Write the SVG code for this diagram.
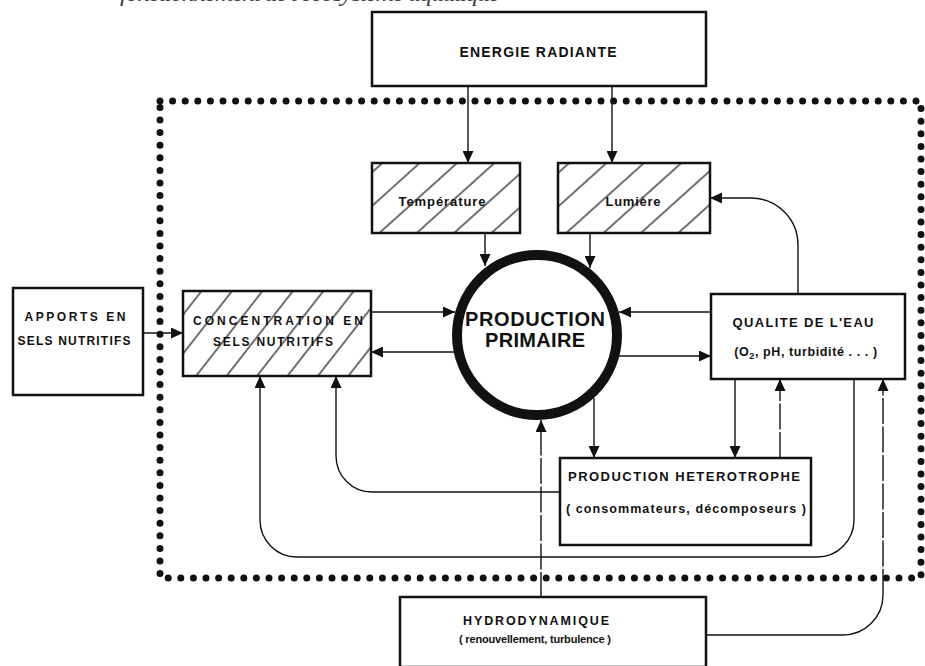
<svg xmlns="http://www.w3.org/2000/svg" width="925" height="666" viewBox="0 0 925 666">
<style>
.box{fill:#fff;stroke:#111;stroke-width:2.5}
.hbox{fill:url(#hatch);stroke:#111;stroke-width:2.5}
.hbox2{fill:url(#hatch2);stroke:#111;stroke-width:2.5}
.t{font-family:"Liberation Sans",Arial,sans-serif;font-weight:bold;fill:#111;text-anchor:middle}
.c{fill:none;stroke:#111;stroke-width:1.4}
.a{marker-end:url(#arr)}
.d{stroke-dasharray:26 2.5}
</style>
<defs>
<marker id="arr" markerUnits="userSpaceOnUse" markerWidth="12" markerHeight="11" refX="12" refY="5.5" orient="auto">
<path d="M0,0 L12,5.5 L0,11 Z" fill="#111"/>
</marker>
<pattern id="hatch" patternUnits="userSpaceOnUse" width="10" height="25" patternTransform="rotate(-42)">
<line x1="0" y1="2" x2="10" y2="2" stroke="#222" stroke-width="1.3"/>
</pattern>
<pattern id="hatch2" patternUnits="userSpaceOnUse" width="10" height="24" patternTransform="rotate(-52)">
<line x1="0" y1="2" x2="10" y2="2" stroke="#222" stroke-width="1.3"/>
</pattern>
</defs>
<rect width="925" height="666" fill="#fff"/>
<text x="310" y="1" font-family="Liberation Serif,serif" font-style="italic" font-size="26" fill="#444" text-anchor="middle" textLength="380">fonctionnement de l'écosystème aquatique</text>

<g id="boundary">
<path d="M160,101 H921 V578 H160 Z" fill="none" stroke="#111" stroke-width="7" stroke-linecap="round" stroke-dasharray="0 12.6"/>
</g>

<g id="connectors">
<path class="c a" d="M468,86 V163"/>
<path class="c a" d="M612,86 V163"/>
<path class="c a" d="M485,233 V266"/>
<path class="c a" d="M590,233 V268"/>
<path class="c a" d="M143,333 H183"/>
<path class="c a" d="M371,312 H455"/>
<path class="c a" d="M454,352 H371"/>
<path class="c a" d="M711,312 H619"/>
<path class="c a" d="M619,356 H711"/>
<path class="c a" d="M798,294 V245 A47,47 0 0 0 751,198 H710"/>
<path class="c a" d="M594,398 V458"/>
<path class="c a" d="M735,379 V458"/>
<path class="c a d" d="M780,458 V379"/>
<path class="c a" d="M854,379 V520 A37,37 0 0 1 817,557 H297 A37,37 0 0 1 260,520 V376"/>
<path class="c a" d="M560,492 H372 A36,36 0 0 1 336,456 V376"/>
<path class="c a d" d="M541,598 V420"/>
<path class="c" d="M706,635 H843 A40,40 0 0 0 883,595"/>
<path class="c a d" d="M883,595 V379"/>
</g>

<g id="energie">
<rect class="box" x="372" y="12" width="334" height="74"/>
<text class="t" x="538" y="57" font-size="14" textLength="157">ENERGIE  RADIANTE</text>
</g>
<g id="temperature">
<rect class="hbox" x="372" y="163" width="148" height="70"/>
<text class="t" x="442" y="206" font-size="13" textLength="87">Température</text>
</g>
<g id="lumiere">
<rect class="hbox" x="558" y="163" width="152" height="70"/>
<text class="t" x="633" y="206" font-size="13" textLength="55">Lumière</text>
</g>
<g id="apports">
<rect class="box" x="13" y="288" width="130" height="107"/>
<text class="t" x="75" y="321" font-size="12" textLength="101">APPORTS  EN</text>
<text class="t" x="74" y="345" font-size="12" textLength="113">SELS NUTRITIFS</text>
</g>
<g id="concentration">
<rect class="hbox2" x="183" y="291" width="188" height="85"/>
<text class="t" x="278" y="325" font-size="12" textLength="170">CONCENTRATION  EN</text>
<text class="t" x="273" y="346" font-size="12" textLength="120">SELS  NUTRITIFS</text>
</g>
<g id="production-primaire">
<circle cx="537" cy="335" r="80" fill="#fff" stroke="#111" stroke-width="10"/>
<text class="t" x="535" y="326" font-size="20" textLength="140">PRODUCTION</text>
<text class="t" x="535" y="347" font-size="20" textLength="100">PRIMAIRE</text>
</g>
<g id="qualite">
<rect class="box" x="711" y="294" width="194" height="85"/>
<text class="t" x="803" y="327" font-size="13" textLength="141">QUALITE  DE L'EAU</text>
<text class="t" x="806" y="356" font-size="12.5" letter-spacing="0.6">(O<tspan font-size="9" dy="3">2</tspan><tspan dy="-3">, pH, turbidité . . . )</tspan></text>
</g>
<g id="production-heterotrophe">
<rect class="box" x="560" y="458" width="251" height="87"/>
<text class="t" x="684" y="481" font-size="13" textLength="232">PRODUCTION  HETEROTROPHE</text>
<text class="t" x="686" y="513" font-size="12.5" textLength="240">( consommateurs, décomposeurs )</text>
</g>
<g id="hydrodynamique">
<rect class="box" x="400" y="597" width="306" height="70"/>
<text class="t" x="536" y="625" font-size="12.5" textLength="146">HYDRODYNAMIQUE</text>
<text class="t" x="535" y="643" font-size="11" textLength="152">( renouvellement, turbulence )</text>
</g>
</svg>
